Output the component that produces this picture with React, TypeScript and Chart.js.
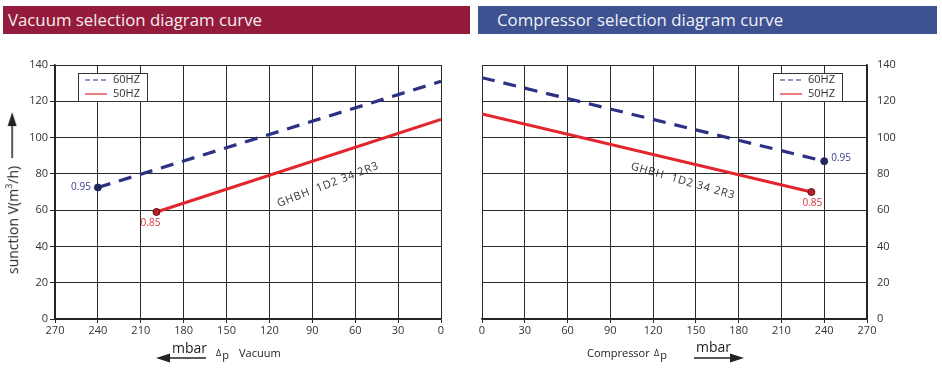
import React, { useEffect, useRef } from "react";
import { Chart, registerables } from "chart.js";

Chart.register(...registerables);

// ---- data ----
const pressureMin = 0;
const pressureMax = 270;
const pressureStep = 30;
const flowMin = 0;
const flowMax = 140;
const flowStep = 20;

const seriesNames = ["60HZ", "50HZ"];
const efficiencyLabels = ["0.95", "0.85"];
const modelName = "GHBH  1D2 34 2R3";

const vacuumDp60 = [240, 0];
const vacuumFlow60 = [72.5, 131];
const vacuumDp50 = [199, 0];
const vacuumFlow50 = [59, 110];

const compDp60 = [0, 240];
const compFlow60 = [133, 87];
const compDp50 = [0, 231];
const compFlow50 = [113, 70];

// model label anchor (data coords)
const vacuumModelAt = [79, 74];
const compModelAt = [141, 76];

const BLUE = "#2c3185";
const RED = "#e3262e";
const GRID = "#2a2a2a";
const FONT = "'Open Sans', 'DejaVu Sans', sans-serif";

type Note = { ds: number; idx: number; text: string; dx: number; dy: number; align: CanvasTextAlign; color: string };

function overlayPlugin(opts: {
  legendSide: "left" | "right";
  notes: Note[];
  modelAt: number[];
  modelAngle: number;
}) {
  return {
    id: "overlay",
    afterDatasetsDraw(chart: any) {
      const ctx = chart.ctx as CanvasRenderingContext2D;
      const area = chart.chartArea;
      const xs = chart.scales.x;
      const ys = chart.scales.y;
      // notes
      ctx.save();
      ctx.font = `10px ${FONT}`;
      ctx.textBaseline = "middle";
      for (const n of opts.notes) {
        const meta = chart.getDatasetMeta(n.ds);
        const el = meta.data[n.idx];
        ctx.fillStyle = n.color;
        ctx.textAlign = n.align;
        ctx.fillText(n.text, el.x + n.dx, el.y + n.dy);
      }
      ctx.restore();
      // model text
      ctx.save();
      const px = xs.getPixelForValue(opts.modelAt[0]);
      const py = ys.getPixelForValue(opts.modelAt[1]);
      ctx.translate(px, py);
      ctx.rotate((opts.modelAngle * Math.PI) / 180);
      ctx.font = `11px ${FONT}`;
      (ctx as any).letterSpacing = "0.8px";
      ctx.fillStyle = "#333";
      ctx.textAlign = "center";
      ctx.textBaseline = "middle";
      ctx.fillText(modelName, 0, 0);
      ctx.restore();
      // legend box
      ctx.save();
      const w = 69;
      const h = 28;
      const lx = opts.legendSide === "left" ? area.left + 23 : area.right - 94;
      const ly = area.top + 8;
      ctx.fillStyle = "#fff";
      ctx.fillRect(lx, ly, w, h);
      ctx.strokeStyle = "#333";
      ctx.lineWidth = 1;
      ctx.strokeRect(lx + 0.5, ly + 0.5, w, h);
      const ds = chart.data.datasets;
      ctx.font = `11px ${FONT}`;
      ctx.textBaseline = "middle";
      ctx.textAlign = "left";
      for (let i = 0; i < ds.length; i++) {
        const yy = ly + 7 + i * 14;
        ctx.beginPath();
        ctx.strokeStyle = ds[i].borderColor;
        ctx.lineWidth = 1.2;
        ctx.setLineDash(ds[i].borderDash && ds[i].borderDash.length ? [5, 3] : []);
        ctx.moveTo(lx + 7, yy);
        ctx.lineTo(lx + 29, yy);
        ctx.stroke();
        ctx.setLineDash([]);
        ctx.fillStyle = "#333";
        ctx.fillText(ds[i].label, lx + 35, yy);
      }
      ctx.restore();
    },
  };
}

function buildChart(
  canvas: HTMLCanvasElement,
  cfg: {
    reverse: boolean;
    yPos: "left" | "right";
    yWidth: number;
    padLeft: number;
    padRight: number;
    d60: number[];
    f60: number[];
    d50: number[];
    f50: number[];
    r60: number[];
    r50: number[];
    notes: Note[];
    legendSide: "left" | "right";
    modelAt: number[];
    modelAngle: number;
  }
) {
  const pts = (xs: number[], ys: number[]) => xs.map((x, i) => ({ x, y: ys[i] }));
  return new Chart(canvas, {
    type: "line",
    data: {
      datasets: [
        {
          label: seriesNames[0],
          data: pts(cfg.d60, cfg.f60),
          borderColor: BLUE,
          borderWidth: 3.2,
          borderDash: [13, 9],
          pointRadius: cfg.r60,
          pointBackgroundColor: "#23275e",
          pointBorderColor: "#23275e",
          pointBorderWidth: 1,
          borderCapStyle: "butt",
        },
        {
          label: seriesNames[1],
          data: pts(cfg.d50, cfg.f50),
          borderColor: RED,
          borderWidth: 3,
          borderDash: [],
          pointRadius: cfg.r50,
          pointBackgroundColor: "#b8202a",
          pointBorderColor: "#5a1015",
          pointBorderWidth: 1,
        },
      ] as any,
    },
    options: {
      animation: false,
      responsive: false,
      maintainAspectRatio: false,
      layout: { padding: { top: 65, left: cfg.padLeft, right: cfg.padRight, bottom: 0 } },
      plugins: { legend: { display: false }, tooltip: { enabled: false } },
      scales: {
        x: {
          type: "linear",
          reverse: cfg.reverse,
          min: pressureMin,
          max: pressureMax,
          ticks: { stepSize: pressureStep, color: "#333", font: { size: 11, family: FONT }, padding: 1, maxRotation: 0 },
          grid: { color: GRID, lineWidth: 1, tickLength: 4 },
          border: { color: "#222", width: 1.5 },
          afterFit: (s: any) => {
            s.height = 50;
          },
        },
        y: {
          position: cfg.yPos,
          min: flowMin,
          max: flowMax,
          ticks: { stepSize: flowStep, color: "#333", font: { size: 11, family: FONT }, padding: cfg.yPos === "left" ? 2 : 10 },
          grid: { color: GRID, lineWidth: 1, tickLength: cfg.yPos === "left" ? 5 : 0, drawTicks: cfg.yPos === "left" },
          border: { color: "#222", width: 1.5 },
          afterFit: (s: any) => {
            s.width = cfg.yWidth;
          },
        },
      } as any,
    },
    plugins: [
      overlayPlugin({
        legendSide: cfg.legendSide,
        notes: cfg.notes,
        modelAt: cfg.modelAt,
        modelAngle: cfg.modelAngle,
      }),
    ],
  });
}

function LeftChart() {
  const ref = useRef<HTMLCanvasElement>(null);
  useEffect(() => {
    const c = buildChart(ref.current!, {
      reverse: true,
      yPos: "left",
      yWidth: 55,
      padLeft: 0,
      padRight: 29,
      d60: vacuumDp60,
      f60: vacuumFlow60,
      d50: vacuumDp50,
      f50: vacuumFlow50,
      r60: [3.5, 0],
      r50: [3.5, 0],
      notes: [
        { ds: 0, idx: 0, text: efficiencyLabels[0], dx: -7, dy: 0, align: "right", color: "#3b4190" },
        { ds: 1, idx: 0, text: efficiencyLabels[1], dx: -6, dy: 11, align: "center", color: "#d8343c" },
      ],
      legendSide: "left",
      modelAt: vacuumModelAt,
      modelAngle: -21,
    });
    return () => c.destroy();
  }, []);
  return <canvas ref={ref} width={470} height={369} style={{ position: "absolute", left: 0, top: 0, width: 470, height: 369 }} />;
}

function RightChart() {
  const ref = useRef<HTMLCanvasElement>(null);
  useEffect(() => {
    const c = buildChart(ref.current!, {
      reverse: false,
      yPos: "right",
      yWidth: 75,
      padLeft: 12,
      padRight: 0,
      d60: compDp60,
      f60: compFlow60,
      d50: compDp50,
      f50: compFlow50,
      r60: [0, 3.5],
      r50: [0, 3.5],
      notes: [
        { ds: 0, idx: 1, text: efficiencyLabels[0], dx: 7, dy: -3, align: "left", color: "#3b4190" },
        { ds: 1, idx: 1, text: efficiencyLabels[1], dx: 1, dy: 11, align: "center", color: "#d8343c" },
      ],
      legendSide: "right",
      modelAt: compModelAt,
      modelAngle: 16,
    });
    return () => c.destroy();
  }, []);
  return <canvas ref={ref} width={472} height={369} style={{ position: "absolute", left: 470, top: 0, width: 472, height: 369 }} />;
}

function Arrow({ left, top, dir }: { left: number; top: number; dir: "left" | "right" }) {
  const w = 50;
  const h = 12;
  const line = dir === "left" ? <line x1={10} y1={6} x2={w} y2={6} stroke="#222" strokeWidth={1.6} /> : <line x1={0} y1={6} x2={w - 10} y2={6} stroke="#222" strokeWidth={1.6} />;
  const head = dir === "left" ? <polygon points={`0,6 14,1.5 14,10.5`} fill="#222" /> : <polygon points={`${w},6 ${w - 14},1.5 ${w - 14},10.5`} fill="#222" />;
  return (
    <svg width={w} height={h} style={{ position: "absolute", left, top }}>
      {line}
      {head}
    </svg>
  );
}

const txt = (extra: React.CSSProperties): React.CSSProperties => ({
  position: "absolute",
  fontFamily: FONT,
  color: "#222",
  whiteSpace: "nowrap",
  lineHeight: 1,
  ...extra,
});

export default function App() {
  return (
    <div style={{ position: "absolute", left: 0, top: 0, width: 942, height: 369, background: "#fff", overflow: "hidden" }}>
      <div
        style={txt({
          left: 3,
          top: 6,
          width: 462,
          height: 28,
          lineHeight: "28px",
          paddingLeft: 5,
          background: "#951b3c",
          color: "#f4eef0",
          fontSize: 16.8,
        })}
      >
        Vacuum selection diagram curve
      </div>
      <div
        style={txt({
          left: 478,
          top: 6,
          width: 440,
          height: 28,
          lineHeight: "28px",
          paddingLeft: 19,
          background: "#3e5190",
          color: "#f0f2f8",
          fontSize: 16.8,
        })}
      >
        Compressor selection diagram curve
      </div>
      <LeftChart />
      <RightChart />
      {/* y-axis title */}
      <div
        style={txt({
          left: 12,
          top: 193,
          transform: "translate(-50%, -50%) rotate(-90deg)",
          display: "flex",
          alignItems: "center",
          fontSize: 14,
        })}
      >
        <span>
          sunction V(m<sup style={{ fontSize: 9 }}>3</sup>/h)
        </span>
        <svg width={46} height={12} style={{ marginLeft: 8 }}>
          <line x1={0} y1={6} x2={34} y2={6} stroke="#222" strokeWidth={1.6} />
          <polygon points="46,6 32,1.5 32,10.5" fill="#222" />
        </svg>
      </div>
      {/* left bottom labels */}
      <div style={txt({ left: 172, top: 341, fontSize: 14 })}>mbar</div>
      <Arrow left={156} top={352} dir="left" />
      <div style={txt({ left: 216, top: 346, fontSize: 9 })}>
        Δ<span style={{ fontSize: 11, position: "relative", top: 3, marginLeft: 1 }}>p</span>
      </div>
      <div style={txt({ left: 239, top: 347, fontSize: 11 })}>Vacuum</div>
      {/* right bottom labels */}
      <div style={txt({ left: 587, top: 347, fontSize: 11 })}>Compressor</div>
      <div style={txt({ left: 654, top: 346, fontSize: 9 })}>
        Δ<span style={{ fontSize: 11, position: "relative", top: 3, marginLeft: 1 }}>p</span>
      </div>
      <div style={txt({ left: 696, top: 340, fontSize: 14 })}>mbar</div>
      <Arrow left={694} top={352} dir="right" />
    </div>
  );
}
